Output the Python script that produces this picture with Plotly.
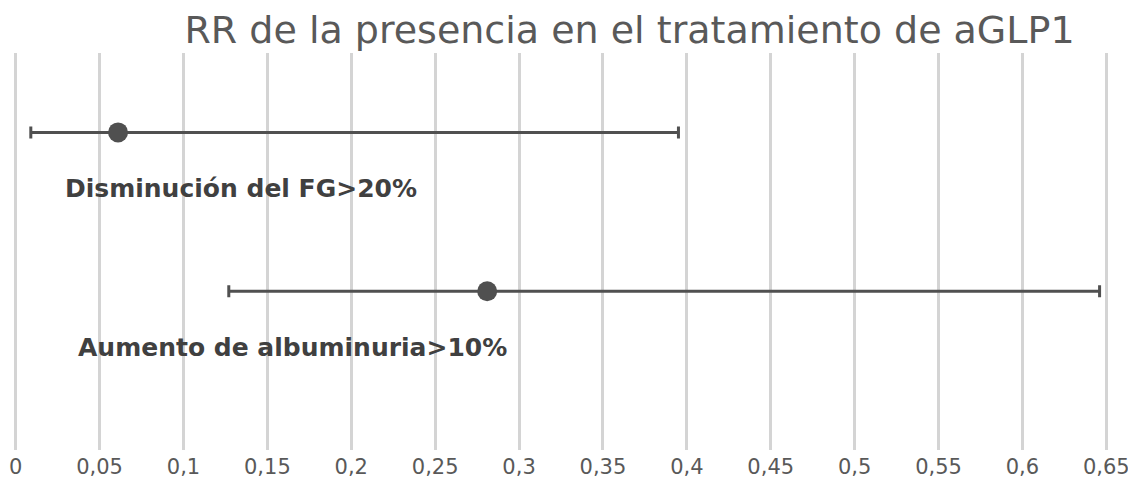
import plotly.graph_objects as go

categories = ["Disminución del FG>20%", "Aumento de albuminuria>10%"]
rr = [0.061, 0.281]
ci_low = [0.009, 0.127]
ci_high = [0.395, 0.646]
y_pos = [2, 1]
tick_vals = [i * 0.05 for i in range(14)]
tick_text = ["0", "0,05", "0,1", "0,15", "0,2", "0,25", "0,3", "0,35", "0,4",
             "0,45", "0,5", "0,55", "0,6", "0,65"]
label_xshift = [47, 60]

err_plus = [h - v for h, v in zip(ci_high, rr)]
err_minus = [v - l for v, l in zip(rr, ci_low)]

fig = go.Figure()
fig.add_trace(go.Scatter(
    x=rr, y=y_pos, mode="markers",
    marker=dict(size=20, color="#505050"),
    error_x=dict(type="data", symmetric=False, array=err_plus, arrayminus=err_minus,
                 color="#505050", thickness=3, width=6),
    showlegend=False, hoverinfo="x",
))

for cat, y, xs in zip(categories, y_pos, label_xshift):
    fig.add_annotation(x=0.0, y=y, xref="x", yref="y", text="<b>" + cat + "</b>",
                       showarrow=False, xanchor="left", yshift=-56, xshift=xs,
                       font=dict(family="DejaVu Sans", size=25, color="#404040"))

fig.update_layout(
    width=1128, height=480,
    margin=dict(l=1, r=23, t=45, b=38, autoexpand=False),
    paper_bgcolor="white", plot_bgcolor="white",
    title=dict(text="RR de la presencia en el tratamiento de aGLP1",
               x=0.551, xanchor="center", y=0.954, yanchor="middle",
               font=dict(family="DejaVu Sans", size=38, color="#595959")),
    xaxis=dict(range=[-0.004, 0.654], tickvals=tick_vals, ticktext=tick_text, automargin=False,
               showgrid=True, gridcolor="#d4d4d4", gridwidth=3, zeroline=False,
               showline=False, ticks="", ticklabelstandoff=2,
               tickfont=dict(family="DejaVu Sans", size=21, color="#595959")),
    yaxis=dict(range=[0, 2.5], showgrid=False, zeroline=False, showticklabels=False,
               showline=False, fixedrange=True, automargin=False),
)

fig.write_html("out.html")
